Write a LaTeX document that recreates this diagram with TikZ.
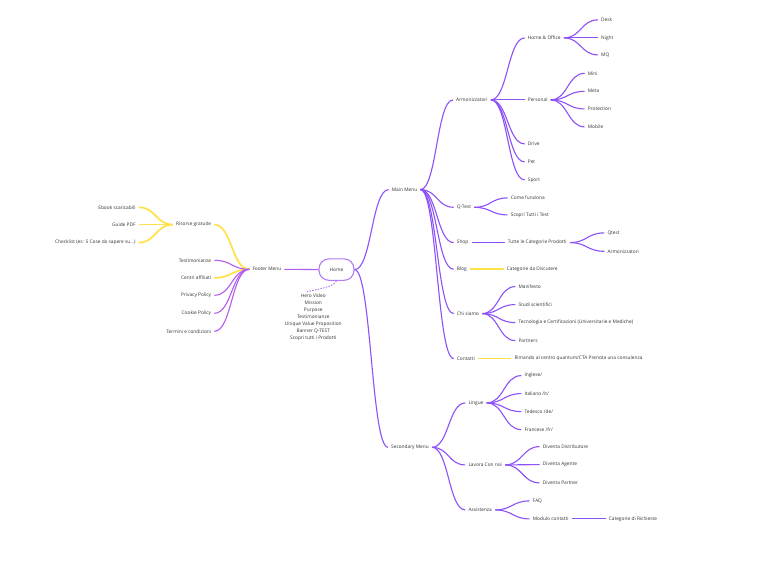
\documentclass[tikz,border=0pt]{standalone}
\usepackage{fontspec}
\setmainfont{Open Sans}
\usetikzlibrary{calc}
\definecolor{mp}{HTML}{8C52F7}
\definecolor{fp}{HTML}{B05CF0}
\definecolor{hp}{HTML}{B57AF4}
\definecolor{yl}{HTML}{FFE24A}
\definecolor{tx}{HTML}{333333}
\begin{document}
\begin{tikzpicture}[x=1pt,y=-1pt,
  lbl/.style={font=\fontsize{4.8}{5}\selectfont, text=tx, inner xsep=3pt, inner ysep=1pt, yshift=-0.6pt},
  rt/.style={lbl,anchor=west},
  lf/.style={lbl,anchor=east},
  link/.style={line width=1.1pt, to path={let \p1=(\tikztostart), \p2=(\tikztotarget) in .. controls ({(\x1+\x2)/2},\y1) and ({(\x1+\x2)/2},\y2) .. (\tikztotarget)}},
  pl/.style={link,draw=mp},
  fl/.style={link,draw=fp},
  yw/.style={link,draw=yl,line width=1.7pt}]
\fill[white] (0,0) rectangle (768,579);
\useasboundingbox (0,0) rectangle (768,579);

% ---------- centre ----------
\node[lbl, draw=hp, line width=1.1pt, rounded corners=10pt, minimum width=35pt, minimum height=21.5pt, inner sep=0pt] (home) at (336.5,269) {Home};
\node[lbl, align=center, font=\fontsize{4.8}{7}\selectfont, anchor=north, inner sep=0pt] (hero) at (313.3,293) {Hero Video\\Mission\\Purpose\\Testimonianze\\Unique Value Proposition\\Banner Q-TEST\\Scopri tutti i Prodotti};
\coordinate (hd) at (306,292);

% ---------- main menu ----------
\node[rt] (mm) at (388.7,189) {Main Menu};
\node[rt] (arm) at (453,99.3) {Armonizzatori};
\node[rt] (ho) at (524.7,37.3) {Home \& Office};
\node[rt] (desk) at (598,19.3) {Desk};
\node[rt] (night) at (598,37.3) {Night};
\node[rt] (mq) at (598,54.3) {MQ};
\node[rt] (pers) at (524.7,99.3) {Personal};
\node[rt] (mini) at (584.7,72.7) {Mini};
\node[rt] (meta) at (584.7,90.7) {Meta};
\node[rt] (prot) at (584.7,108.3) {Protection};
\node[rt] (mob) at (584.7,126.3) {Mobile};
\node[rt] (drive) at (524.7,143.3) {Drive};
\node[rt] (pet) at (524.7,161.3) {Pet};
\node[rt] (sport) at (524.7,179.3) {Sport};
\node[rt] (qt) at (453.7,206.7) {Q-Test};
\node[rt] (come) at (507.7,197.3) {Come funziona};
\node[rt] (scopri) at (507.7,214.3) {Scopri Tutti i Test};
\node[rt] (shop) at (453.7,242) {Shop};
\node[rt] (tutte) at (504.7,242) {Tutte le Categorie Prodotti};
\node[rt] (qtest) at (604.3,232.3) {Qtest};
\node[rt] (arm2) at (604.3,250.7) {Armonizzatori};
\node[rt] (blog) at (453.7,268.7) {Blog};
\node[rt] (catd) at (503.7,268.7) {Categorie da Discutere};
\node[rt] (chi) at (453.7,313) {Chi siamo};
\node[rt] (mani) at (515.3,286) {Manifesto};
\node[rt] (studi) at (515.3,304) {Studi scientifici};
\node[rt] (tec) at (515.3,322) {Tecnologia e Certificazioni (Universitarie e Mediche)};
\node[rt] (part) at (515.3,340) {Partners};
\node[rt] (cont) at (453.7,358) {Contatti};
\node[rt] (rim) at (511.3,358) {Rimando al centro quantum/CTA Prenota una consulenza};

% ---------- secondary menu ----------
\node[rt] (sm) at (388,446.7) {Secondary Menu};
\node[rt] (ling) at (465.3,402.3) {Lingue};
\node[rt] (ing) at (521.3,375) {Inglese/};
\node[rt] (ita) at (521.3,393) {Italiano /it/};
\node[rt] (ted) at (521.3,411) {Tedesco /de/};
\node[rt] (fra) at (521.3,429) {Francese /fr/};
\node[rt] (lav) at (465.3,464.3) {Lavora Con noi};
\node[rt] (dd) at (539.7,446) {Diventa Distributore};
\node[rt] (da) at (539.7,464) {Diventa Agente};
\node[rt] (dp) at (539.7,482.3) {Diventa Partner};
\node[rt] (ass) at (465.3,509.3) {Assistenza};
\node[rt] (faq) at (529.7,500.3) {FAQ};
\node[rt] (mod) at (529.7,518.3) {Modulo contatti};
\node[rt] (catr) at (605.7,518.3) {Categorie di Richieste};

% ---------- footer ----------
\node[rt] (foot) at (249.3,268.7) {Footer Menu};
\node[lf] (ris) at (214.3,224) {Risorse gratuite};
\node[lf] (ebook) at (138.7,206.7) {Ebook scaricabili};
\node[lf] (guide) at (138.7,224) {Guide PDF};
\node[lf] (check) at (138.7,242) {Checklist (es: 5 Cose da sapere su...)};
\node[lf] (testi) at (214.3,259.7) {Testimonianze};
\node[lf] (centri) at (214.3,277.3) {Centri affiliati};
\node[lf] (priv) at (214.3,294.7) {Privacy Policy};
\node[lf] (cook) at (214.3,312.7) {Cookie Policy};
\node[lf] (term) at (214.3,330.7) {Termini e condizioni};

% ---------- connectors ----------
\draw[hp, line width=0.9pt, dash pattern=on 1.6pt off 1.2pt] (home.south) .. controls (334,287) and (318,289) .. (hd);
\draw[fl] (foot.east) -- (home.west);
\draw[pl] (home.east) to (mm.west);
\draw[pl] (home.east) to (sm.west);

\draw[pl] (mm.east) to (arm.west);
\draw[pl] (arm.east) to (ho.west);
\draw[pl] (ho.east) to (desk.west);
\draw[pl] (ho.east) to (night.west);
\draw[pl] (ho.east) to (mq.west);
\draw[pl] (arm.east) to (pers.west);
\draw[pl] (pers.east) to (mini.west);
\draw[pl] (pers.east) to (meta.west);
\draw[pl] (pers.east) to (prot.west);
\draw[pl] (pers.east) to (mob.west);
\draw[pl] (arm.east) to (drive.west);
\draw[pl] (arm.east) to (pet.west);
\draw[pl] (arm.east) to (sport.west);
\draw[pl] (mm.east) to (qt.west);
\draw[pl] (qt.east) to (come.west);
\draw[pl] (qt.east) to (scopri.west);
\draw[pl] (mm.east) to (shop.west);
\draw[pl] (shop.east) to (tutte.west);
\draw[pl] (tutte.east) to (qtest.west);
\draw[pl] (tutte.east) to (arm2.west);
\draw[pl] (mm.east) to (blog.west);
\draw[yw] (blog.east) to (catd.west);
\draw[pl] (mm.east) to (chi.west);
\draw[pl] (chi.east) to (mani.west);
\draw[pl] (chi.east) to (studi.west);
\draw[pl] (chi.east) to (tec.west);
\draw[pl] (chi.east) to (part.west);
\draw[pl] (mm.east) to (cont.west);
\draw[yw] (cont.east) to (rim.west);

\draw[pl] (sm.east) to (ling.west);
\draw[pl] (ling.east) to (ing.west);
\draw[pl] (ling.east) to (ita.west);
\draw[pl] (ling.east) to (ted.west);
\draw[pl] (ling.east) to (fra.west);
\draw[pl] (sm.east) to (lav.west);
\draw[pl] (lav.east) to (dd.west);
\draw[pl] (lav.east) to (da.west);
\draw[pl] (lav.east) to (dp.west);
\draw[pl] (sm.east) to (ass.west);
\draw[pl] (ass.east) to (faq.west);
\draw[pl] (ass.east) to (mod.west);
\draw[pl] (mod.east) to (catr.west);

\draw[yw] (foot.west) to (ris.east);
\draw[yw] (ris.west) to (ebook.east);
\draw[yw] (ris.west) to (guide.east);
\draw[yw] (ris.west) to (check.east);
\draw[yw] (foot.west) to (centri.east);
\draw[fl] (foot.west) to (testi.east);
\draw[fl] (foot.west) to (priv.east);
\draw[fl] (foot.west) to (cook.east);
\draw[fl] (foot.west) to (term.east);
\end{tikzpicture}
\end{document}
